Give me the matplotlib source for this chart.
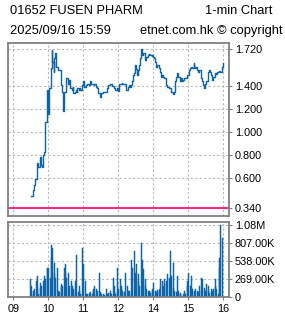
import matplotlib
matplotlib.use("Agg")
import matplotlib.pyplot as plt

plt.rcParams['font.family'] = ['Liberation Sans', 'DejaVu Sans']

# ---------------- data ----------------
title_left1 = "01652 FUSEN PHARM"
title_right1 = "1-min Chart"
title_left2 = "2025/09/16 15:59"
title_right2 = "etnet.com.hk \u00a9 copyright"

prev_close = 0.340
price_ticks = [0.340, 0.600, 0.800, 1.000, 1.200, 1.400, 1.720]
hour_labels = ["09", "10", "11", "12", "14", "15", "16"]

price_times = [
    "09:31", "09:34", "09:36", "09:38", "09:40", "09:41", "09:43", "09:45", "09:46", "09:47",
    "09:50", "09:51", "09:53", "09:54", "09:55", "09:57", "09:58", "09:59", "10:00", "10:01",
    "10:02", "10:04", "10:05", "10:06", "10:07", "10:09", "10:10", "10:11", "10:13", "10:14",
    "10:16", "10:17", "10:19", "10:21", "10:22", "10:23", "10:25", "10:26", "10:27", "10:29",
    "10:30", "10:31", "10:33", "10:35", "10:37", "10:38", "10:40", "10:42", "10:43", "10:45",
    "10:47", "10:49", "10:50", "10:52", "10:54", "10:55", "10:57", "10:59", "11:01", "11:02",
    "11:04", "11:06", "11:07", "11:09", "11:11", "11:13", "11:14", "11:16", "11:18", "11:19",
    "11:21", "11:23", "11:25", "11:26", "11:28", "11:30", "11:31", "11:33", "11:35", "11:37",
    "11:38", "11:40", "11:42", "11:43", "11:45", "11:47", "11:49", "11:50", "11:52", "11:54",
    "11:55", "11:57", "11:59", "13:01", "13:02", "13:04", "13:06", "13:07", "13:09", "13:11",
    "13:13", "13:15", "13:17", "13:18", "13:20", "13:22", "13:23", "13:25", "13:27", "13:29",
    "13:30", "13:32", "13:34", "13:35", "13:37", "13:39", "13:40", "13:41", "13:43", "13:45",
    "13:46", "13:48", "13:50", "13:51", "13:53", "13:55", "13:57", "13:58", "14:00", "14:02",
    "14:03", "14:05", "14:07", "14:09", "14:10", "14:12", "14:14", "14:15", "14:17", "14:19",
    "14:21", "14:22", "14:24", "14:26", "14:27", "14:29", "14:31", "14:33", "14:34", "14:36",
    "14:38", "14:39", "14:41", "14:43", "14:45", "14:46", "14:48", "14:50", "14:51", "14:53",
    "14:55", "14:57", "14:58", "15:00", "15:02", "15:03", "15:05", "15:07", "15:09", "15:10",
    "15:12", "15:14", "15:15", "15:17", "15:19", "15:21", "15:22", "15:24", "15:26", "15:27",
    "15:29", "15:31", "15:33", "15:34", "15:36", "15:38", "15:39", "15:41", "15:43", "15:45",
    "15:46", "15:48", "15:50", "15:51", "15:53", "15:55", "15:57", "15:58", "15:59",
]
price_values = [
    0.450, 0.496, 0.540, 0.597, 0.684, 0.730, 0.700, 0.740, 0.785, 0.713,
    0.700, 0.800, 0.830, 1.030, 1.090, 1.280, 1.365, 1.260, 1.160, 1.280,
    1.380, 1.467, 1.554, 1.710, 1.610, 1.525, 1.640, 1.684, 1.580, 1.568,
    1.554, 1.539, 1.540, 1.525, 1.410, 1.350, 1.320, 1.180, 1.350, 1.350,
    1.440, 1.467, 1.420, 1.450, 1.440, 1.380, 1.365, 1.394, 1.336, 1.350,
    1.365, 1.350, 1.380, 1.365, 1.380, 1.365, 1.409, 1.440, 1.420, 1.394,
    1.409, 1.410, 1.420, 1.410, 1.443, 1.440, 1.420, 1.420, 1.410, 1.420,
    1.394, 1.380, 1.350, 1.336, 1.307, 1.320, 1.336, 1.350, 1.350, 1.350,
    1.350, 1.380, 1.410, 1.410, 1.415, 1.415, 1.410, 1.400, 1.380, 1.380,
    1.365, 1.380, 1.357, 1.410, 1.420, 1.420, 1.430, 1.420, 1.420, 1.420,
    1.365, 1.365, 1.394, 1.410, 1.394, 1.410, 1.440, 1.496, 1.510, 1.580,
    1.550, 1.496, 1.540, 1.580, 1.640, 1.720, 1.700, 1.670, 1.684, 1.655,
    1.626, 1.655, 1.655, 1.670, 1.675, 1.670, 1.664, 1.670, 1.655, 1.640,
    1.610, 1.568, 1.580, 1.568, 1.554, 1.525, 1.480, 1.496, 1.480, 1.467,
    1.440, 1.410, 1.394, 1.394, 1.380, 1.380, 1.350, 1.328, 1.328, 1.350,
    1.440, 1.480, 1.510, 1.480, 1.467, 1.440, 1.467, 1.440, 1.450, 1.467,
    1.467, 1.480, 1.496, 1.496, 1.540, 1.554, 1.568, 1.554, 1.597, 1.568,
    1.554, 1.568, 1.540, 1.525, 1.540, 1.510, 1.467, 1.440, 1.410, 1.386,
    1.420, 1.440, 1.467, 1.525, 1.540, 1.525, 1.496, 1.450, 1.480, 1.496,
    1.510, 1.505, 1.520, 1.525, 1.533, 1.520, 1.540, 1.568, 1.597,
]

vol_times = [
    "09:30", "09:32", "09:34", "09:35", "09:37", "09:39", "09:41",
    "09:42", "09:44", "09:46", "09:47", "09:49", "09:51", "09:53",
    "09:54", "09:56", "09:58", "09:59", "10:01", "10:03", "10:05",
    "10:06", "10:08", "10:10", "10:11", "10:13", "10:15", "10:17",
    "10:18", "10:20", "10:22", "10:23", "10:25", "10:27", "10:29",
    "10:30", "10:32", "10:34", "10:35", "10:37", "10:39", "10:41",
    "10:42", "10:44", "10:46", "10:47", "10:49", "10:51", "10:53",
    "10:54", "10:56", "10:58", "10:59", "11:01", "11:03", "11:05",
    "11:06", "11:08", "11:10", "11:11", "11:13", "11:15", "11:17",
    "11:18", "11:20", "11:22", "11:23", "11:25", "11:27", "11:29",
    "11:30", "11:32", "11:34", "11:35", "11:37", "11:39", "11:41",
    "11:42", "11:44", "11:46", "11:47", "11:49", "11:51", "11:53",
    "11:54", "11:56", "11:58", "11:59", "13:01", "13:03", "13:05",
    "13:06", "13:08", "13:10", "13:11", "13:13", "13:15", "13:17",
    "13:18", "13:20", "13:22", "13:23", "13:25", "13:27", "13:29",
    "13:30", "13:32", "13:34", "13:35", "13:37", "13:39", "13:41",
    "13:42", "13:44", "13:46", "13:47", "13:49", "13:51", "13:53",
    "13:54", "13:56", "13:58", "13:59", "14:01", "14:03", "14:05",
    "14:06", "14:08", "14:10", "14:11", "14:13", "14:15", "14:17",
    "14:18", "14:20", "14:22", "14:23", "14:25", "14:27", "14:29",
    "14:30", "14:32", "14:34", "14:35", "14:37", "14:39", "14:41",
    "14:42", "14:44", "14:46", "14:47", "14:49", "14:51", "14:53",
    "14:54", "14:56", "14:58", "14:59", "15:01", "15:03", "15:05",
    "15:06", "15:08", "15:10", "15:11", "15:13", "15:15", "15:17",
    "15:18", "15:20", "15:22", "15:23", "15:25", "15:27", "15:29",
    "15:30", "15:32", "15:34", "15:35", "15:37", "15:39", "15:41",
    "15:42", "15:44", "15:46", "15:47", "15:49", "15:51", "15:53",
    "15:54", "15:56", "15:58", "15:59",
]
vol_k = [
    262, 163, 40, 89, 114, 237, 311, 114, 40, 138,
    212, 163, 237, 188, 311, 262, 435, 410, 435, 286,
    583, 781, 731, 361, 509, 286, 435, 89, 64, 64,
    163, 188, 163, 435, 361, 484, 286, 361, 114, 163,
    237, 89, 163, 114, 237, 64, 632, 64, 163, 89,
    40, 731, 40, 484, 237, 40, 15, 40, 25, 49,
    64, 40, 89, 114, 163, 114, 40, 89, 361, 40,
    64, 40, 15, 40, 25, 114, 40, 15, 49, 89,
    49, 40, 286, 163, 64, 40, 89, 435, 114, 262,
    163, 114, 89, 64, 40, 361, 163, 89, 49, 89,
    40, 558, 435, 682, 286, 361, 484, 237, 336, 163,
    805, 237, 558, 410, 262, 163, 114, 89, 64, 89,
    49, 89, 114, 212, 89, 64, 74, 99, 89, 114,
    262, 237, 148, 163, 262, 188, 237, 336, 286, 188,
    682, 311, 509, 138, 89, 64, 40, 311, 89, 49,
    40, 15, 40, 25, 89, 40, 163, 237, 361, 163,
    311, 138, 114, 89, 49, 114, 89, 40, 64, 163,
    89, 286, 262, 138, 89, 40, 188, 163, 89, 49,
    114, 89, 40, 114, 163, 262, 114, 40, 435, 583,
    1076, 880,
]
vol_times = vol_times[:len(vol_k)]


def pos(t):
    h, m = map(int, t.split(":"))
    c = (h - 9) * 60 + m
    return c - 60 if h >= 13 else c


px = [pos(t) for t in price_times]
vx = [pos(t) for t in vol_times]
vols = [v * 1000 for v in vol_k]
hour_pos = [pos(h + ":00") for h in hour_labels]

# ---------------- figure ----------------
W, H = 285, 318
fig = plt.figure(figsize=(W / 100, H / 100), dpi=100)
fig.patch.set_facecolor("white")

ax1 = fig.add_axes([8.3 / W, 1 - 216 / H, (229 - 8.3) / W, (216 - 43.3) / H])
ax2 = fig.add_axes([8.3 / W, 1 - 296.7 / H, (229 - 8.3) / W, (296.7 - 222.3) / H])

line_col = "#0d64a8"
grid_kw = dict(color="#b8b8b8", linewidth=0.8, linestyle=(0, (2, 2)))
xlim = (-8.6, 369.8)

for ax in (ax1, ax2):
    ax.set_xlim(*xlim)
    for s in ax.spines.values():
        s.set_color("#808080")
        s.set_linewidth(1.3)
    ax.yaxis.tick_right()
    ax.tick_params(axis="y", which="both", direction="out", length=2.5, width=0.8,
                   color="#808080", labelsize=7.8, pad=1.8, labelcolor="black")
    ax.set_xticks(hour_pos)
    ax.set_axisbelow(True)
    ax.grid(True, axis="both", **grid_kw)

# price panel
ax1.plot(px, price_values, drawstyle="steps-post", color=line_col, linewidth=1.0)
ax1.axhline(prev_close, color="#ff1080", linewidth=1.3)
ax1.set_ylim(0.275, 1.770)
ax1.set_yticks(price_ticks)
ax1.set_yticklabels([f"{v:.3f}" for v in price_ticks])
ax1.tick_params(axis="x", length=0, labelbottom=False)

# volume panel
vmax = max(vols)
vticks = [0, vmax / 4, vmax / 2, vmax * 3 / 4, vmax]


def vfmt(v):
    if v == 0:
        return "0"
    if v >= 1e6:
        return f"{v / 1e6:.2f}M"
    return f"{v / 1e3:.2f}K"


ax2.bar(vx, vols, width=1.75, color=line_col, align="center",
        edgecolor=line_col, linewidth=0.35)
ax2.set_ylim(0, vmax * 1.0376)
ax2.set_yticks(vticks)
ax2.set_yticklabels([vfmt(v) for v in vticks])
ax2.set_xticklabels(hour_labels)
ax2.tick_params(axis="x", direction="out", length=2.5, width=0.8, color="#808080",
                labelsize=7.8, pad=2.5)

# header texts
fig.text(10 / W, 1 - 11 / H, title_left1, fontsize=9.3, ha="left", va="center")
fig.text(272 / W, 1 - 11 / H, title_right1, fontsize=9.3, ha="right", va="center")
fig.text(10 / W, 1 - 31 / H, title_left2, fontsize=9.3, ha="left", va="center")
fig.text(283 / W, 1 - 31 / H, title_right2, fontsize=9.3, ha="right", va="center")

fig.savefig("out.png", dpi=100)
